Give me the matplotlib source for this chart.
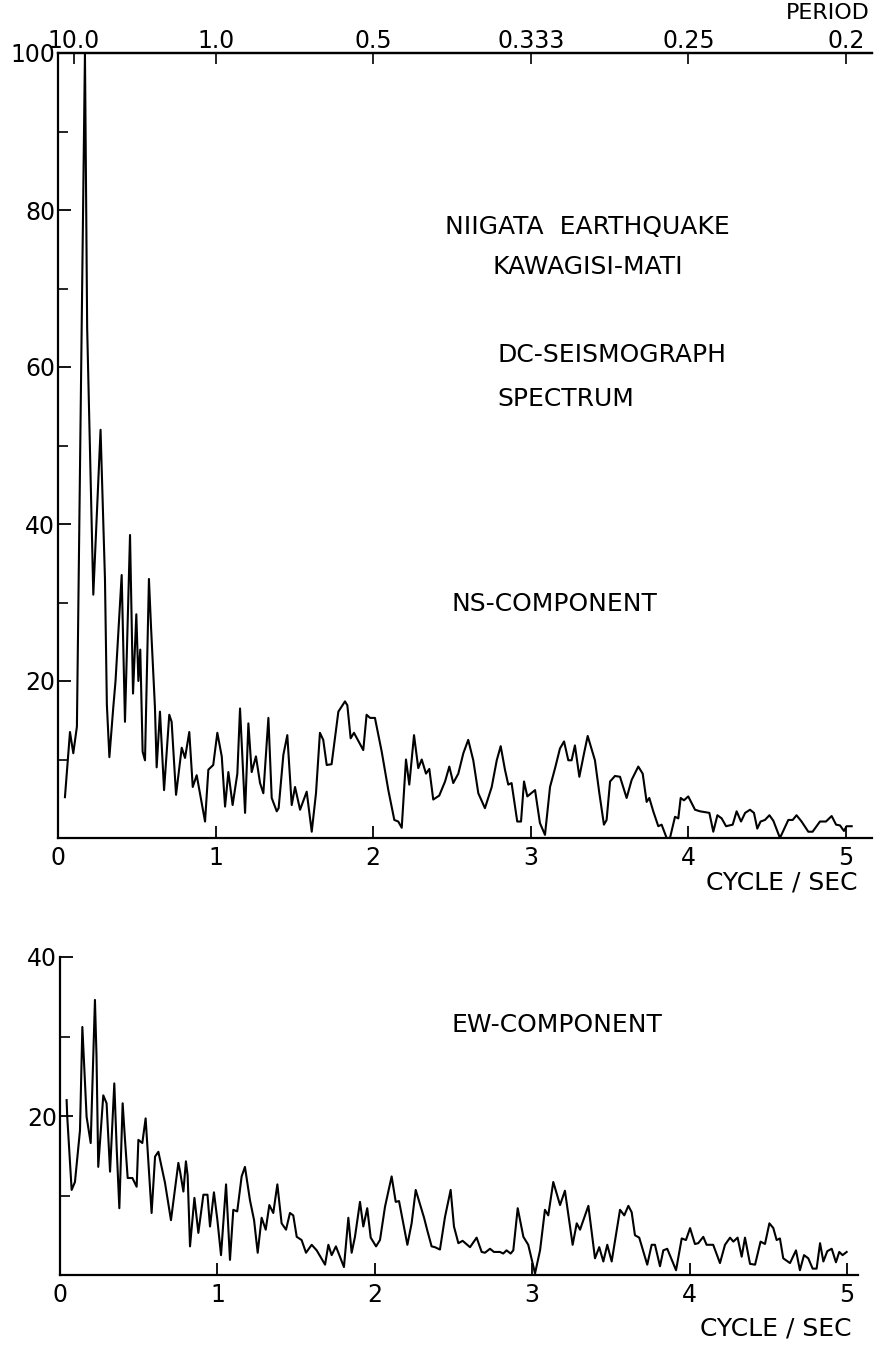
import numpy as np
import matplotlib
matplotlib.use("Agg")
import matplotlib.pyplot as plt

# NS-component spectrum (frequency in cycle/sec, amplitude)
ns_freq = [0.044, 0.076, 0.097, 0.120, 0.171, 0.185, 0.224, 0.270, 0.298, 0.310,
           0.326, 0.351, 0.365, 0.404, 0.425, 0.457, 0.476, 0.497, 0.510, 0.522,
           0.537, 0.552, 0.577, 0.590, 0.615, 0.626, 0.647, 0.673, 0.706, 0.721,
           0.749, 0.785, 0.806, 0.833, 0.855, 0.880, 0.933, 0.954, 0.985, 1.011,
           1.039, 1.060, 1.081, 1.108, 1.138, 1.155, 1.187, 1.208, 1.229, 1.256,
           1.282, 1.303, 1.335, 1.356, 1.388, 1.400, 1.430, 1.455, 1.483, 1.504,
           1.536, 1.578, 1.610, 1.637, 1.662, 1.683, 1.705, 1.736, 1.779, 1.821,
           1.836, 1.857, 1.878, 1.937, 1.958, 1.980, 2.011, 2.054, 2.096, 2.134,
           2.159, 2.181, 2.208, 2.229, 2.259, 2.286, 2.308, 2.335, 2.356, 2.381,
           2.419, 2.456, 2.483, 2.508, 2.540, 2.572, 2.603, 2.635, 2.667, 2.709,
           2.752, 2.784, 2.809, 2.836, 2.857, 2.878, 2.914, 2.938, 2.957, 2.978,
           3.027, 3.058, 3.090, 3.122, 3.154, 3.185, 3.211, 3.238, 3.259, 3.280,
           3.308, 3.338, 3.361, 3.407, 3.435, 3.464, 3.481, 3.503, 3.534, 3.566,
           3.608, 3.640, 3.682, 3.710, 3.735, 3.752, 3.777, 3.809, 3.830, 3.862,
           3.883, 3.915, 3.936, 3.951, 3.972, 3.999, 4.042, 4.074, 4.133, 4.158,
           4.184, 4.211, 4.239, 4.281, 4.306, 4.334, 4.360, 4.391, 4.416, 4.437,
           4.458, 4.486, 4.514, 4.539, 4.581, 4.634, 4.662, 4.686, 4.718, 4.761,
           4.788, 4.835, 4.873, 4.909, 4.937, 4.962, 4.987, 5.004, 5.036]
ns_amp = [5.2, 13.5, 10.8, 14.2, 100.0, 65.0, 31.0, 52.0, 33.0, 17.0,
          10.3, 16.7, 20.0, 33.5, 14.8, 38.6, 18.4, 28.5, 20.0, 24.0,
          11.0, 9.9, 33.0, 27.0, 16.7, 9.0, 16.1, 6.1, 15.7, 14.8,
          5.5, 11.5, 10.2, 13.5, 6.5, 8.0, 2.1, 8.7, 9.3, 13.4,
          10.4, 4.0, 8.4, 4.2, 8.2, 16.5, 3.2, 14.6, 8.4, 10.4,
          7.0, 5.7, 15.3, 5.1, 3.4, 3.8, 10.6, 13.1, 4.2, 6.5,
          3.6, 5.9, 0.8, 5.7, 13.4, 12.5, 9.3, 9.4, 16.1, 17.4,
          16.9, 12.7, 13.4, 11.2, 15.7, 15.3, 15.3, 11.0, 6.1, 2.3,
          2.1, 1.3, 10.0, 6.8, 13.1, 8.9, 10.0, 8.2, 8.8, 4.9,
          5.4, 7.2, 9.1, 7.0, 8.2, 10.8, 12.5, 9.9, 5.7, 3.8,
          6.5, 9.9, 11.7, 8.7, 6.8, 7.0, 2.1, 2.1, 7.2, 5.3,
          6.1, 1.9, 0.4, 6.5, 8.9, 11.4, 12.3, 9.9, 9.9, 11.8,
          7.8, 10.8, 13.0, 9.9, 5.7, 1.7, 2.3, 7.2, 7.9, 7.8,
          5.1, 7.4, 9.1, 8.2, 4.6, 5.1, 3.4, 1.5, 1.7, 0.0,
          0.0, 2.7, 2.5, 5.1, 4.8, 5.3, 3.6, 3.4, 3.2, 0.8,
          2.9, 2.5, 1.5, 1.7, 3.4, 2.1, 3.2, 3.6, 3.2, 1.2,
          2.1, 2.3, 2.9, 2.2, 0.0, 2.3, 2.3, 2.9, 2.1, 0.8,
          0.8, 2.1, 2.1, 2.8, 1.7, 1.6, 0.9, 1.5, 1.5]

# EW-component spectrum
ew_freq = [0.042, 0.046, 0.074, 0.095, 0.127, 0.142, 0.155, 0.169, 0.195, 0.222,
           0.232, 0.243, 0.275, 0.296, 0.318, 0.345, 0.360, 0.377, 0.398, 0.413,
           0.430, 0.460, 0.487, 0.498, 0.523, 0.544, 0.565, 0.582, 0.604, 0.625,
           0.667, 0.705, 0.752, 0.763, 0.784, 0.800, 0.811, 0.826, 0.854, 0.879,
           0.911, 0.937, 0.953, 0.978, 1.000, 1.023, 1.055, 1.080, 1.101, 1.126,
           1.154, 1.175, 1.207, 1.233, 1.256, 1.281, 1.307, 1.330, 1.355, 1.381,
           1.408, 1.436, 1.461, 1.482, 1.504, 1.535, 1.563, 1.599, 1.631, 1.684,
           1.705, 1.726, 1.753, 1.804, 1.832, 1.853, 1.874, 1.906, 1.927, 1.952,
           1.974, 2.008, 2.033, 2.065, 2.107, 2.133, 2.154, 2.207, 2.234, 2.260,
           2.283, 2.313, 2.335, 2.361, 2.382, 2.414, 2.446, 2.482, 2.503, 2.531,
           2.558, 2.605, 2.647, 2.679, 2.700, 2.732, 2.757, 2.795, 2.816, 2.837,
           2.863, 2.880, 2.908, 2.944, 2.975, 3.018, 3.050, 3.081, 3.102, 3.134,
           3.155, 3.177, 3.208, 3.257, 3.283, 3.304, 3.357, 3.399, 3.426, 3.452,
           3.477, 3.505, 3.558, 3.585, 3.611, 3.632, 3.653, 3.680, 3.731, 3.759,
           3.780, 3.812, 3.833, 3.858, 3.914, 3.950, 3.977, 4.003, 4.034, 4.055,
           4.087, 4.108, 4.150, 4.193, 4.225, 4.257, 4.278, 4.305, 4.331, 4.352,
           4.384, 4.416, 4.451, 4.479, 4.507, 4.532, 4.553, 4.574, 4.595, 4.638,
           4.676, 4.701, 4.727, 4.754, 4.782, 4.807, 4.829, 4.850, 4.875, 4.903,
           4.930, 4.951, 4.972, 4.998]
ew_amp = [22.0, 19.9, 10.7, 11.7, 18.2, 31.2, 25.8, 19.9, 16.6, 34.6,
          27.5, 13.6, 22.6, 21.6, 13.0, 24.1, 16.0, 8.4, 21.6, 17.0,
          12.2, 12.2, 11.1, 17.0, 16.6, 19.7, 13.0, 7.8, 14.9, 15.5,
          11.6, 6.9, 14.1, 13.0, 10.5, 14.3, 12.5, 3.6, 9.7, 5.3,
          10.1, 10.1, 6.1, 10.4, 6.9, 2.5, 11.4, 1.9, 8.2, 8.0,
          12.4, 13.6, 9.4, 6.9, 2.8, 7.2, 5.7, 8.8, 7.8, 11.4,
          6.5, 5.7, 7.8, 7.5, 4.8, 4.4, 2.8, 3.8, 3.1, 1.3,
          3.8, 2.5, 3.6, 1.0, 7.2, 2.8, 4.8, 9.2, 6.1, 8.4,
          4.7, 3.6, 4.4, 8.6, 12.4, 9.2, 9.3, 3.8, 6.5, 10.7,
          9.2, 7.2, 5.5, 3.6, 3.5, 3.2, 7.3, 10.7, 6.1, 4.0,
          4.3, 3.5, 4.7, 2.9, 2.8, 3.3, 2.9, 2.9, 2.7, 3.1,
          2.7, 3.1, 8.4, 4.8, 3.8, 0.2, 3.1, 8.2, 7.5, 11.7,
          10.3, 8.8, 10.6, 3.8, 6.5, 5.7, 8.7, 2.1, 3.5, 1.7,
          3.8, 1.7, 8.2, 7.5, 8.7, 7.9, 5.0, 4.7, 1.3, 3.8,
          3.8, 1.1, 3.1, 3.3, 0.6, 4.6, 4.4, 5.9, 3.9, 4.0,
          4.8, 3.8, 3.8, 1.5, 3.8, 4.7, 4.2, 4.7, 2.3, 4.7,
          1.4, 1.3, 4.2, 3.9, 6.5, 5.9, 4.4, 4.6, 2.1, 1.5,
          3.1, 0.6, 2.5, 2.1, 0.8, 0.8, 4.0, 1.7, 3.0, 3.3,
          1.6, 2.9, 2.5, 2.9]

period_labels = ["10.0", "1.0", "0.5", "0.333", "0.25", "0.2"]
periods = [10.0, 1.0, 0.5, 1 / 3, 0.25, 0.2]
freq_ticks = [0, 1, 2, 3, 4, 5]

W, H = 878, 1345
plt.rcParams['font.family'] = 'DejaVu Sans'
fig = plt.figure(figsize=(W / 100, H / 100), dpi=100)

def box(l, r, t, b):
    return [l / W, 1 - b / H, (r - l) / W, (b - t) / H]

TFS = 17   # tick labels
FS = 18    # annotations
LW = 1.5

# --- NS component (top)
ax1 = fig.add_axes(box(58, 872, 53, 838))
ax1.plot(ns_freq, ns_amp, color='black', lw=LW)
ax1.set_xlim(0, 5.165)
ax1.set_ylim(0, 100)
ax1.spines['right'].set_visible(False)
for s in ax1.spines.values():
    s.set_linewidth(1.6)
ax1.set_xticks(freq_ticks)
ax1.set_xticklabels([str(v) for v in freq_ticks])
ax1.set_yticks([20, 40, 60, 80, 100])
ax1.set_yticks([10, 30, 50, 70, 90], minor=True)
ax1.tick_params(axis='both', which='major', direction='in', length=9, width=1.3,
                labelsize=TFS, pad=6)
ax1.tick_params(axis='y', which='major', pad=2)
ax1.tick_params(axis='y', which='minor', direction='in', length=7, width=1.2)

top = ax1.secondary_xaxis('top')
top.set_xticks([1 / p for p in periods])
top.set_xticklabels(period_labels)
top.tick_params(direction='in', length=8, width=1.2, labelsize=TFS, pad=0)
top.spines['top'].set_linewidth(1.6)

def ftext(x, y, s, ha='left', size=FS):
    fig.text(x / W, 1 - y / H, s, ha=ha, va='center', fontsize=size)

ftext(870, 13, "PERIOD", ha='right', size=16)
ftext(587, 227, "NIIGATA  EARTHQUAKE", ha='center')
ftext(588, 267, "KAWAGISI-MATI", ha='center')
ftext(497, 355, "DC-SEISMOGRAPH")
ftext(497, 399, "SPECTRUM")
ftext(452, 604, "NS-COMPONENT")
ftext(858, 882, "CYCLE / SEC", ha='right')

# --- EW component (bottom)
ax2 = fig.add_axes(box(60, 858, 957, 1275))
ax2.plot(ew_freq, ew_amp, color='black', lw=LW)
ax2.set_xlim(0, 5.07)
ax2.set_ylim(0, 40)
ax2.spines['right'].set_visible(False)
ax2.spines['top'].set_visible(False)
for s in ax2.spines.values():
    s.set_linewidth(1.6)
ax2.set_xticks(freq_ticks)
ax2.set_xticklabels([str(v) for v in freq_ticks])
ax2.set_yticks([20, 40])
ax2.set_yticks([10, 30], minor=True)
ax2.tick_params(axis='both', which='major', direction='in', length=9, width=1.3,
                labelsize=TFS, pad=6)
ax2.tick_params(axis='y', which='major', pad=2)
ax2.tick_params(axis='y', which='minor', direction='in', length=7, width=1.2)

ftext(452, 1025, "EW-COMPONENT")
ftext(852, 1328, "CYCLE / SEC", ha='right')

fig.savefig("out.png", dpi=100)
